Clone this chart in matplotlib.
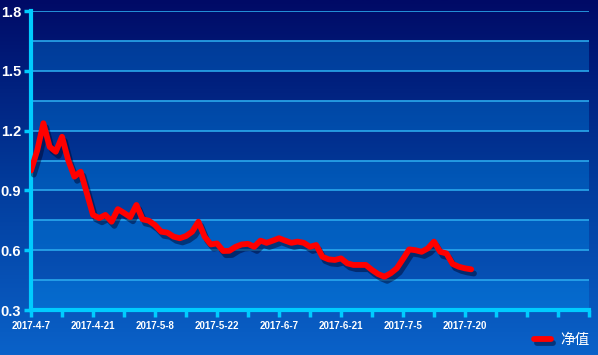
import numpy as np
import matplotlib
matplotlib.use('Agg')
import matplotlib.pyplot as plt
import matplotlib.patheffects as pe
from matplotlib.colors import LinearSegmentedColormap

# net value per trading day
nav = [1.00, 1.10, 1.237, 1.119, 1.094, 1.169, 1.052, 0.969, 0.994, 0.887,
       0.777, 0.761, 0.777, 0.743, 0.806, 0.787, 0.766, 0.827, 0.755, 0.748,
       0.726, 0.693, 0.688, 0.668, 0.660, 0.671, 0.693, 0.743, 0.668, 0.629,
       0.634, 0.596, 0.597, 0.617, 0.629, 0.632, 0.617, 0.648, 0.637, 0.648,
       0.660, 0.648, 0.637, 0.643, 0.637, 0.617, 0.626, 0.567, 0.554, 0.551,
       0.559, 0.534, 0.526, 0.526, 0.526, 0.501, 0.480, 0.467, 0.484, 0.509,
       0.556, 0.604, 0.600, 0.592, 0.609, 0.643, 0.592, 0.584, 0.531, 0.517,
       0.509, 0.504]
date_labels = ['2017-4-7', '2017-4-21', '2017-5-8', '2017-5-22',
               '2017-6-7', '2017-6-21', '2017-7-5', '2017-7-20']
series_name = '净值'

n_slots = 90  # category slots on the x axis
label_step = 10
tick_step = 5

fig = plt.figure(figsize=(5.98, 3.55), dpi=100)

# background gradient over the whole figure
bg = fig.add_axes([0, 0, 1, 1], zorder=0)
cmap = LinearSegmentedColormap.from_list('bg', ['#000a66', '#023a9a', '#0a62c9'])
grad = np.linspace(0, 1, 256).reshape(-1, 1)
bg.imshow(grad, aspect='auto', cmap=cmap, extent=[0, 1, 0, 1], origin='upper')
bg.axis('off')

ax = fig.add_axes([31 / 598, 45 / 355, 558 / 598, 299 / 355], zorder=1)
ax.patch.set_alpha(0)

# alternating bands and grid lines
levels = np.arange(0.3, 1.81, 0.15)
for i in range(len(levels) - 1):
    if i % 2 == 0:
        ax.axhspan(levels[i], levels[i + 1], color='#00a0ff', alpha=0.28, lw=0, zorder=0)
for lv in levels:
    ax.axhline(lv, color='#2aa8ec', lw=1.2, zorder=1)

x = np.arange(len(nav))
ax.plot(x, nav, color='#ff0000', lw=4.2, solid_joinstyle='round', solid_capstyle='round',
        zorder=3, label=series_name,
        path_effects=[pe.SimpleLineShadow(offset=(2, -3), shadow_color='#000022', alpha=0.45),
                      pe.Normal()])

ax.set_xlim(0, n_slots)
ax.set_ylim(0.3, 1.8)

ax.set_yticks([0.3, 0.6, 0.9, 1.2, 1.5, 1.8])
ax.set_yticklabels(['0.3', '0.6', '0.9', '1.2', '1.5', '1.8'])
ax.set_xticks(np.arange(0, n_slots + 1, tick_step))
lbls = [''] * len(ax.get_xticks())
for k, d in enumerate(date_labels):
    lbls[k * label_step // tick_step] = d
ax.set_xticklabels(lbls)

for s in ['top', 'right']:
    ax.spines[s].set_visible(False)
for s in ['left', 'bottom']:
    ax.spines[s].set_color('#00ccff')
    ax.spines[s].set_linewidth(3)
ax.tick_params(axis='both', colors='#00ccff', width=2.5, length=5)
ax.tick_params(axis='y', labelcolor='white', labelsize=10.5, pad=2)
ax.tick_params(axis='x', labelcolor='white', labelsize=7, pad=3)
for t in ax.get_yticklabels() + ax.get_xticklabels():
    t.set_fontweight('bold')
    t.set_family('Liberation Sans')

leg = ax.legend(loc='lower right', bbox_to_anchor=(1.0, 0.0), bbox_transform=fig.transFigure,
                frameon=False, handlelength=1.1, handletextpad=0.7, borderaxespad=0.15,
                prop={'family': ['Noto Sans CJK SC', 'DejaVu Sans'], 'size': 10.5})
for t in leg.get_texts():
    t.set_color('white')

fig.savefig('out.png', dpi=100)
